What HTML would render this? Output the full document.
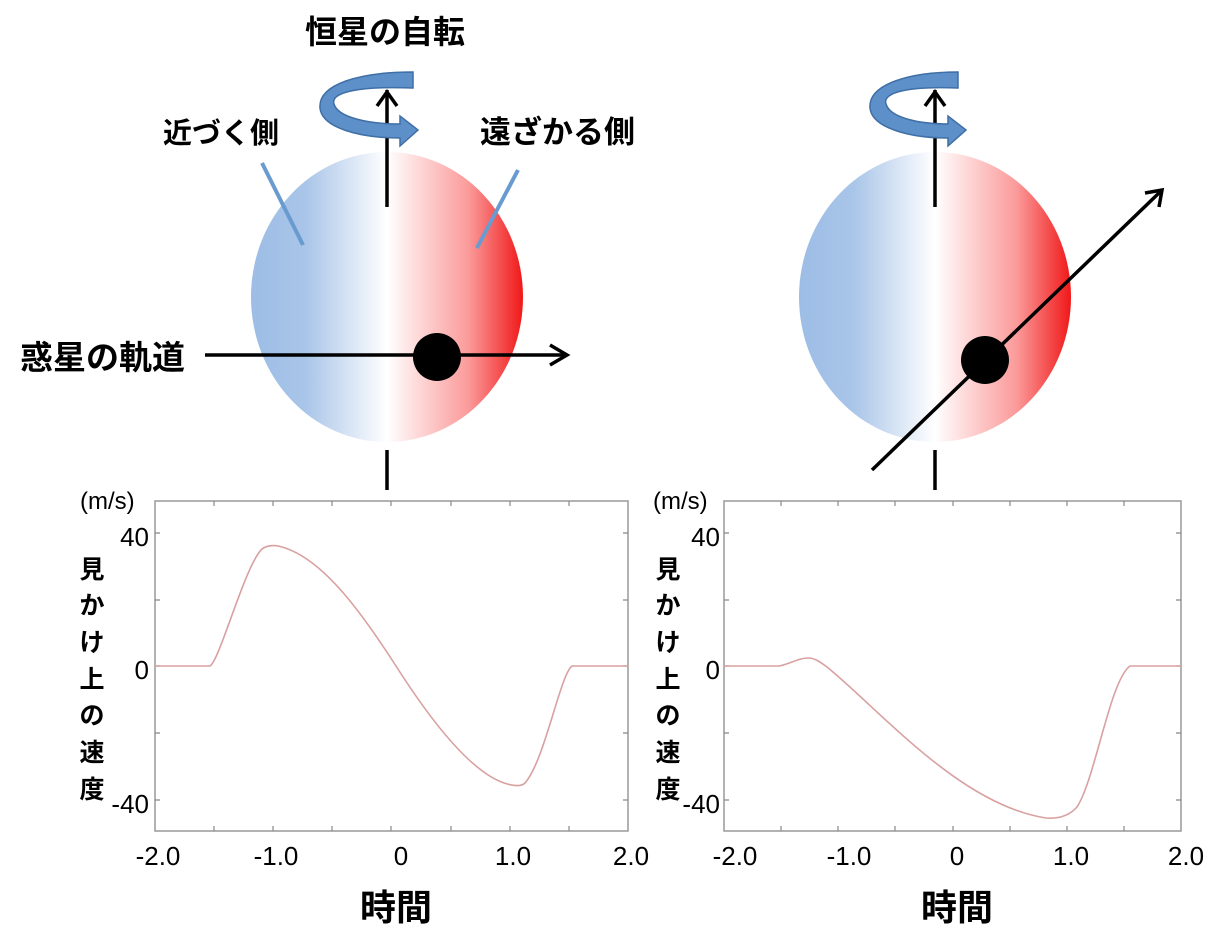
<!DOCTYPE html>
<html><head><meta charset="utf-8"><style>
html,body{margin:0;padding:0;background:#fff;}
svg{display:block;}
text{font-family:"Liberation Sans","Noto Sans CJK JP",sans-serif;fill:#000;}
</style></head><body>
<svg width="1228" height="944" viewBox="0 0 1228 944" xmlns="http://www.w3.org/2000/svg">
<defs>
<linearGradient id="g" x1="0" x2="1" y1="0" y2="0">
<stop offset="0" stop-color="#9dbde6"/><stop offset="0.2" stop-color="#a9c5e8"/>
<stop offset="0.5" stop-color="#ffffff"/>
<stop offset="0.8" stop-color="#fb9a9a"/><stop offset="1" stop-color="#f01818"/>
</linearGradient>
</defs>

<!-- LEFT DIAGRAM -->
<ellipse cx="387" cy="297" rx="136" ry="145" fill="url(#g)"/>
<line x1="387" y1="207" x2="387" y2="90" stroke="#000" stroke-width="3.5"/>
<path d="M377,106 L387,92 L397,106" fill="none" stroke="#000" stroke-width="3.5"/>
<line x1="387" y1="450" x2="387" y2="490" stroke="#000" stroke-width="3.5"/>
<path d="M413,72 L413,88 C360,86 330,92 334,104 C338,118 370,124 400,124 L400,116 L418,130 L400,146 L400,138 C360,138 322,128 320,108 C318,84 360,72 413,72 Z" fill="#5d8fc8" stroke="#3f6fa6" stroke-width="1.5"/>
<line x1="262" y1="163" x2="303" y2="245" stroke="#6a9bcf" stroke-width="4"/>
<line x1="518" y1="170" x2="477" y2="248" stroke="#6a9bcf" stroke-width="4"/>
<line x1="205" y1="355" x2="565" y2="355" stroke="#000" stroke-width="3.5"/>
<path d="M550,345 L567,355 L550,365" fill="none" stroke="#000" stroke-width="3.5"/>
<circle cx="437" cy="357" r="24" fill="#000"/>
<text x="305" y="43" font-size="32" font-weight="bold">恒星の自転</text>
<text x="163" y="143" font-size="29" font-weight="bold">近づく側</text>
<text x="480" y="143" font-size="31" font-weight="bold">遠ざかる側</text>
<text x="20" y="369" font-size="33" font-weight="bold">惑星の軌道</text>

<!-- RIGHT DIAGRAM -->
<ellipse cx="935" cy="297" rx="136" ry="145" fill="url(#g)"/>
<line x1="935" y1="207" x2="935" y2="90" stroke="#000" stroke-width="3.5"/>
<path d="M925,106 L935,92 L945,106" fill="none" stroke="#000" stroke-width="3.5"/>
<line x1="935" y1="450" x2="935" y2="490" stroke="#000" stroke-width="3.5"/>
<path d="M958,72 L958,88 C910,86 882,92 886,104 C890,118 920,124 948,124 L948,116 L966,130 L948,146 L948,138 C910,138 872,128 870,108 C868,84 910,72 958,72 Z" fill="#5d8fc8" stroke="#3f6fa6" stroke-width="1.5"/>
<line x1="872" y1="470" x2="1160" y2="192" stroke="#000" stroke-width="3.5"/>
<path d="M1145,193 L1162,190 L1159,207" fill="none" stroke="#000" stroke-width="3.5"/>
<circle cx="985" cy="360" r="24" fill="#000"/>

<!-- LEFT PLOT -->
<rect x="155" y="501" width="473" height="330" fill="none" stroke="#999" stroke-width="1.5"/>
<g stroke="#888" stroke-width="1.2">
<path d="M214,501v5M273,501v5M332,501v5M391,501v5M451,501v5M510,501v5M569,501v5
M214,831v-5M273,831v-5M332,831v-5M391,831v-5M451,831v-5M510,831v-5M569,831v-5
M155,533h5M155,600h5M155,666h5M155,733h5M155,800h5
M628,533h-5M628,600h-5M628,666h-5M628,733h-5M628,800h-5"/>
</g>
<path d="M155,666 L210,666 C220,660 245,565 262,549 C266,546 272,545 278,546 C320,555 360,610 396,666 C440,735 480,780 512,785 C516,786 522,786 525,783 C545,760 560,675 572,666 L628,666" fill="none" stroke="#d9a0a0" stroke-width="1.6"/>
<text x="80" y="509" font-size="24">(m/s)</text>
<text x="149" y="546" font-size="26" text-anchor="end">40</text>
<text x="149" y="679" font-size="26" text-anchor="end">0</text>
<text x="149" y="813" font-size="26" text-anchor="end">-40</text>
<g font-size="26" text-anchor="middle">
<text x="158" y="865">-2.0</text><text x="276" y="865">-1.0</text><text x="401" y="865">0</text><text x="513" y="865">1.0</text><text x="631" y="865">2.0</text>
</g>
<g font-size="25" font-weight="bold" text-anchor="middle">
<text x="92" y="578">見</text><text x="92" y="614">か</text><text x="92" y="651">け</text><text x="92" y="688">上</text><text x="92" y="724">の</text><text x="92" y="761">速</text><text x="92" y="798">度</text>
</g>
<text x="396" y="920" font-size="36" font-weight="bold" text-anchor="middle">時間</text>

<!-- RIGHT PLOT -->
<rect x="724" y="501" width="457" height="330" fill="none" stroke="#999" stroke-width="1.5"/>
<g stroke="#888" stroke-width="1.2">
<path d="M781,501v5M838,501v5M895,501v5M953,501v5M1010,501v5M1067,501v5M1124,501v5
M781,831v-5M838,831v-5M895,831v-5M953,831v-5M1010,831v-5M1067,831v-5M1124,831v-5
M724,533h5M724,600h5M724,666h5M724,733h5M724,800h5
M1181,533h-5M1181,600h-5M1181,666h-5M1181,733h-5M1181,800h-5"/>
</g>
<path d="M724,666 L779,666 C790,664 798,658 808,658 C815,658 820,662 827,667 C880,710 960,805 1046,818 C1060,819 1070,815 1077,807 C1095,780 1110,680 1130,666 L1181,666" fill="none" stroke="#d9a0a0" stroke-width="1.6"/>
<text x="653" y="509" font-size="24">(m/s)</text>
<text x="720" y="546" font-size="26" text-anchor="end">40</text>
<text x="720" y="679" font-size="26" text-anchor="end">0</text>
<text x="720" y="813" font-size="26" text-anchor="end">-40</text>
<g font-size="26" text-anchor="middle">
<text x="735" y="865">-2.0</text><text x="849" y="865">-1.0</text><text x="957" y="865">0</text><text x="1071" y="865">1.0</text><text x="1186" y="865">2.0</text>
</g>
<g font-size="25" font-weight="bold" text-anchor="middle">
<text x="668" y="578">見</text><text x="668" y="614">か</text><text x="668" y="651">け</text><text x="668" y="688">上</text><text x="668" y="724">の</text><text x="668" y="761">速</text><text x="668" y="798">度</text>
</g>
<text x="957" y="920" font-size="36" font-weight="bold" text-anchor="middle">時間</text>
</svg>
</body></html>
